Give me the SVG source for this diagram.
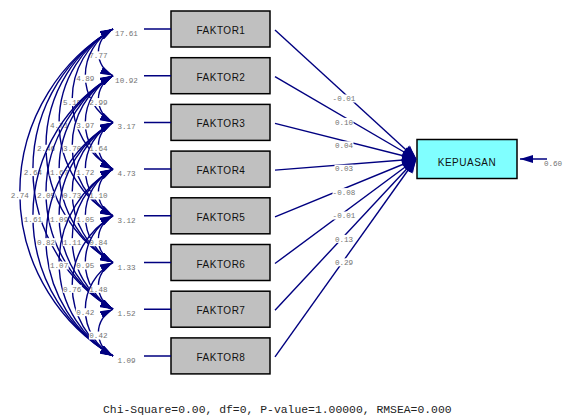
<svg xmlns="http://www.w3.org/2000/svg" width="572" height="417" viewBox="0 0 572 417">
  <style>
    .ln { fill: none; stroke: #000080; stroke-width: 1.5; }
    .cov { fill: none; stroke: #000080; stroke-width: 1.4; marker-start: url(#ah); marker-end: url(#ah); }
    .path { fill: none; stroke: #000080; stroke-width: 1.4; marker-end: url(#ahw); }
    .err { fill: none; stroke: #000080; stroke-width: 1.5; marker-end: url(#ah); }
    .num { font-family: "Liberation Mono", "DejaVu Sans Mono", monospace; font-size: 7.6px; fill: #737373; text-anchor: middle; }
    .bg { fill: #ffffff; }
    .box { fill: #c0c0c0; stroke: #000000; stroke-width: 1.5; }
    .dep { fill: #80ffff; stroke: #000000; stroke-width: 1.5; }
    .lbl { font-family: "Liberation Sans", Arial, sans-serif; font-size: 10px; fill: #111111; text-anchor: middle; letter-spacing: 0.5px; }
    .fit { font-family: "Liberation Mono", "Courier New", monospace; font-size: 11.4px; fill: #222222; }
  </style>
  <defs>
    <marker id="ah" viewBox="0 0 13 8" refX="13" refY="4" markerWidth="13" markerHeight="8" markerUnits="userSpaceOnUse" orient="auto-start-reverse">
      <path d="M0,0 L13,4 L0,8 Z" fill="#000080"/>
    </marker>
    <!-- broader heads for the paths: they overlap into one blob at the target -->
    <marker id="ahw" viewBox="0 0 14 12" refX="14" refY="6" markerWidth="14" markerHeight="12" markerUnits="userSpaceOnUse" orient="auto">
      <path d="M0,0 Q6,6 0,12 L14,6 Z" fill="#000080"/>
      <path d="M0,1 C6,3 12,4 14,6 C12,8 6,9 0,11 Z" fill="#000080"/>
    </marker>
  </defs>
  <rect width="572" height="417" fill="#ffffff"/>

  <!-- observed variables -->
  <g id="faktor1"><rect class="box" x="171" y="11" width="99" height="36"/><text class="lbl" x="221" y="34">FAKTOR1</text></g>
  <g id="faktor2"><rect class="box" x="171" y="57.7" width="99" height="36"/><text class="lbl" x="221" y="80.7">FAKTOR2</text></g>
  <g id="faktor3"><rect class="box" x="171" y="104.4" width="99" height="36"/><text class="lbl" x="221" y="127.4">FAKTOR3</text></g>
  <g id="faktor4"><rect class="box" x="171" y="151.1" width="99" height="36"/><text class="lbl" x="221" y="174.1">FAKTOR4</text></g>
  <g id="faktor5"><rect class="box" x="171" y="197.8" width="99" height="36"/><text class="lbl" x="221" y="220.8">FAKTOR5</text></g>
  <g id="faktor6"><rect class="box" x="171" y="244.5" width="99" height="36"/><text class="lbl" x="221" y="267.5">FAKTOR6</text></g>
  <g id="faktor7"><rect class="box" x="171" y="291.2" width="99" height="36"/><text class="lbl" x="221" y="314.2">FAKTOR7</text></g>
  <g id="faktor8"><rect class="box" x="171" y="337.9" width="99" height="36"/><text class="lbl" x="221" y="360.9">FAKTOR8</text></g>

  <!-- dependent variable -->
  <g id="kepuasan"><rect class="dep" x="417" y="139.5" width="100" height="39"/><text class="lbl" x="467" y="166" letter-spacing="0.9px">KEPUASAN</text></g>

  <!-- variances of the observed variables -->
  <g id="variances">
    <path class="ln" d="M144,29 H171 M144,75.7 H171 M144,122.4 H171 M144,169.1 H171 M144,215.8 H171 M144,262.5 H171 M144,309.2 H171 M144,355.9 H171"/>
    <text class="num" x="126.5" y="36">17.61</text>
    <text class="num" x="126.5" y="82.7">10.92</text>
    <text class="num" x="126.5" y="129.4">3.17</text>
    <text class="num" x="126.5" y="176.1">4.73</text>
    <text class="num" x="126.5" y="222.8">3.12</text>
    <text class="num" x="126.5" y="269.5">1.33</text>
    <text class="num" x="126.5" y="316.2">1.52</text>
    <text class="num" x="126.5" y="362.9">1.09</text>
  </g>

  <!-- covariance arcs, each followed by its label -->
  <g id="covariances">
    <path class="cov" d="M113,29 A25.97,25.97 0 0 0 113,75.7"/><rect class="bg" x="88.9" y="51.35" width="19" height="8"/><text class="num" x="98.4" y="58.05">7.77</text>
    <path class="cov" d="M113,29 A53.22,53.22 0 0 0 113,122.4"/><rect class="bg" x="75.8" y="74.7" width="19" height="8"/><text class="num" x="85.3" y="81.4">4.89</text>
    <path class="cov" d="M113,29 A80.53,80.53 0 0 0 113,169.1"/><rect class="bg" x="62.7" y="98.05" width="19" height="8"/><text class="num" x="72.2" y="104.75">5.15</text>
    <path class="cov" d="M113,29 A107.87,107.87 0 0 0 113,215.8"/><rect class="bg" x="49.6" y="121.4" width="19" height="8"/><text class="num" x="59.1" y="128.1">4.71</text>
    <path class="cov" d="M113,29 A135.22,135.22 0 0 0 113,262.5"/><rect class="bg" x="36.5" y="144.75" width="19" height="8"/><text class="num" x="46" y="151.45">2.46</text>
    <path class="cov" d="M113,29 A162.57,162.57 0 0 0 113,309.2"/><rect class="bg" x="23.4" y="168.1" width="19" height="8"/><text class="num" x="32.9" y="174.8">2.64</text>
    <path class="cov" d="M113,29 A189.93,189.93 0 0 0 113,355.9"/><rect class="bg" x="10.3" y="191.45" width="19" height="8"/><text class="num" x="19.8" y="198.15">2.74</text>

    <path class="cov" d="M113,75.7 A25.97,25.97 0 0 0 113,122.4"/><rect class="bg" x="88.9" y="98.05" width="19" height="8"/><text class="num" x="98.4" y="104.75">2.99</text>
    <path class="cov" d="M113,75.7 A53.22,53.22 0 0 0 113,169.1"/><rect class="bg" x="75.8" y="121.4" width="19" height="8"/><text class="num" x="85.3" y="128.1">3.97</text>
    <path class="cov" d="M113,75.7 A80.53,80.53 0 0 0 113,215.8"/><rect class="bg" x="62.7" y="144.75" width="19" height="8"/><text class="num" x="72.2" y="151.45">3.70</text>
    <path class="cov" d="M113,75.7 A107.87,107.87 0 0 0 113,262.5"/><rect class="bg" x="49.6" y="168.1" width="19" height="8"/><text class="num" x="59.1" y="174.8">1.67</text>
    <path class="cov" d="M113,75.7 A135.22,135.22 0 0 0 113,309.2"/><rect class="bg" x="36.5" y="191.45" width="19" height="8"/><text class="num" x="46" y="198.15">2.05</text>
    <path class="cov" d="M113,75.7 A162.57,162.57 0 0 0 113,355.9"/><rect class="bg" x="23.4" y="214.8" width="19" height="8"/><text class="num" x="32.9" y="221.5">1.61</text>

    <path class="cov" d="M113,122.4 A25.97,25.97 0 0 0 113,169.1"/><rect class="bg" x="88.9" y="144.75" width="19" height="8"/><text class="num" x="98.4" y="151.45">1.64</text>
    <path class="cov" d="M113,122.4 A53.22,53.22 0 0 0 113,215.8"/><rect class="bg" x="75.8" y="168.1" width="19" height="8"/><text class="num" x="85.3" y="174.8">1.72</text>
    <path class="cov" d="M113,122.4 A80.53,80.53 0 0 0 113,262.5"/><rect class="bg" x="62.7" y="191.45" width="19" height="8"/><text class="num" x="72.2" y="198.15">0.73</text>
    <path class="cov" d="M113,122.4 A107.87,107.87 0 0 0 113,309.2"/><rect class="bg" x="49.6" y="214.8" width="19" height="8"/><text class="num" x="59.1" y="221.5">1.09</text>
    <path class="cov" d="M113,122.4 A135.22,135.22 0 0 0 113,355.9"/><rect class="bg" x="36.5" y="238.15" width="19" height="8"/><text class="num" x="46" y="244.85">0.82</text>

    <path class="cov" d="M113,169.1 A25.97,25.97 0 0 0 113,215.8"/><rect class="bg" x="88.9" y="191.45" width="19" height="8"/><text class="num" x="98.4" y="198.15">1.10</text>
    <path class="cov" d="M113,169.1 A53.22,53.22 0 0 0 113,262.5"/><rect class="bg" x="75.8" y="214.8" width="19" height="8"/><text class="num" x="85.3" y="221.5">1.05</text>
    <path class="cov" d="M113,169.1 A80.53,80.53 0 0 0 113,309.2"/><rect class="bg" x="62.7" y="238.15" width="19" height="8"/><text class="num" x="72.2" y="244.85">1.11</text>
    <path class="cov" d="M113,169.1 A107.87,107.87 0 0 0 113,355.9"/><rect class="bg" x="49.6" y="261.5" width="19" height="8"/><text class="num" x="59.1" y="268.2">1.07</text>

    <path class="cov" d="M113,215.8 A25.97,25.97 0 0 0 113,262.5"/><rect class="bg" x="88.9" y="238.15" width="19" height="8"/><text class="num" x="98.4" y="244.85">0.84</text>
    <path class="cov" d="M113,215.8 A53.22,53.22 0 0 0 113,309.2"/><rect class="bg" x="75.8" y="261.5" width="19" height="8"/><text class="num" x="85.3" y="268.2">0.95</text>
    <path class="cov" d="M113,215.8 A80.53,80.53 0 0 0 113,355.9"/><rect class="bg" x="62.7" y="284.85" width="19" height="8"/><text class="num" x="72.2" y="291.55">0.76</text>

    <path class="cov" d="M113,262.5 A25.97,25.97 0 0 0 113,309.2"/><rect class="bg" x="88.9" y="284.85" width="19" height="8"/><text class="num" x="98.4" y="291.55">1.48</text>
    <path class="cov" d="M113,262.5 A53.22,53.22 0 0 0 113,355.9"/><rect class="bg" x="75.8" y="308.2" width="19" height="8"/><text class="num" x="85.3" y="314.9">0.42</text>

    <path class="cov" d="M113,309.2 A25.97,25.97 0 0 0 113,355.9"/><rect class="bg" x="88.9" y="331.55" width="19" height="8"/><text class="num" x="98.4" y="338.25">0.42</text>
  </g>

  <!-- regression paths into KEPUASAN -->
  <g id="paths">
    <path class="path" d="M275,30 L416,159"/>
    <path class="path" d="M275,76.7 L416,159"/>
    <path class="path" d="M275,123.4 L416,159"/>
    <path class="path" d="M275,170.1 L416,159"/>
    <path class="path" d="M275,216.8 L416,159"/>
    <path class="path" d="M275,263.5 L416,159"/>
    <path class="path" d="M275,310.2 L416,159"/>
    <path class="path" d="M275,356.9 L416,159"/>
    <rect class="bg" x="332.5" y="94.5" width="23" height="8"/><text class="num" x="344" y="101.2">-0.01</text>
    <rect class="bg" x="334.5" y="117.9" width="19" height="8"/><text class="num" x="344" y="124.6">0.10</text>
    <rect class="bg" x="334.5" y="141.3" width="19" height="8"/><text class="num" x="344" y="148">0.04</text>
    <rect class="bg" x="334.5" y="164.7" width="19" height="8"/><text class="num" x="344" y="171.4">0.03</text>
    <rect class="bg" x="332.5" y="188.1" width="23" height="8"/><text class="num" x="344" y="194.8">-0.08</text>
    <rect class="bg" x="332.5" y="211.5" width="23" height="8"/><text class="num" x="344" y="218.2">-0.01</text>
    <rect class="bg" x="334.5" y="234.9" width="19" height="8"/><text class="num" x="344" y="241.6">0.13</text>
    <rect class="bg" x="334.5" y="258.3" width="19" height="8"/><text class="num" x="344" y="265">0.29</text>
  </g>

  <!-- error term of KEPUASAN -->
  <g id="error">
    <path class="err" d="M547,159 L520,159"/>
    <text class="num" x="553" y="166" text-anchor="start">0.60</text>
  </g>

  <text class="fit" x="103" y="413">Chi-Square=0.00, df=0, P-value=1.00000, RMSEA=0.000</text>
</svg>
